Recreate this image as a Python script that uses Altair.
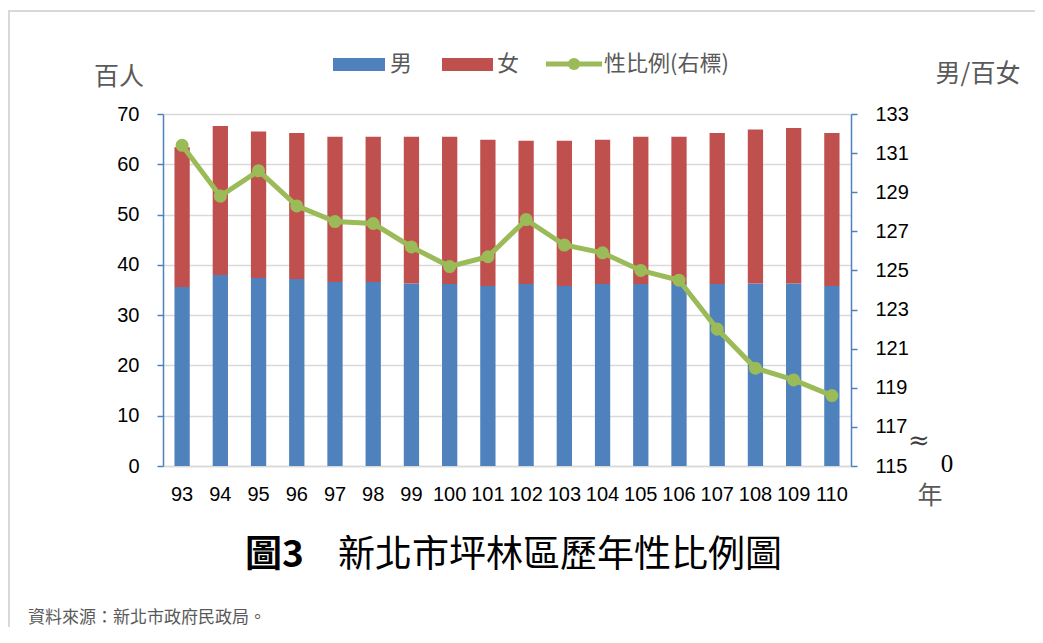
import altair as alt
import pandas as pd

# ---- data ----
years = [str(y) for y in range(93, 111)]
male = [35.6, 38.0, 37.4, 37.2, 36.6, 36.6, 36.3, 36.2, 35.8, 36.2, 35.8, 36.2, 36.2, 36.2, 36.2, 36.3, 36.3, 35.8]
female = [27.8, 29.6, 29.1, 29.0, 28.9, 28.9, 29.2, 29.3, 29.1, 28.5, 28.9, 28.7, 29.3, 29.3, 30.0, 30.6, 30.9, 30.4]
ratio = [131.4, 128.8, 130.1, 128.3, 127.5, 127.4, 126.2, 125.2, 125.7, 127.6, 126.3, 125.9, 125.0, 124.5, 122.0, 120.0, 119.4, 118.6]
series_names = ["男", "女", "性比例(右標)"]
left_ticks = [0, 10, 20, 30, 40, 50, 60, 70]
right_ticks = [115, 117, 119, 121, 123, 125, 127, 129, 131, 133]

BLUE = "#4f81bd"
RED = "#c0504d"
GREEN = "#9bbb59"
GRID = "#d9d9d9"
CJK = "Noto Sans CJK TC"
NUM = "Liberation Sans"

bar_df = pd.DataFrame(
    [{"year": y, "sex": series_names[0], "value": m, "ord": 0} for y, m in zip(years, male)]
    + [{"year": y, "sex": series_names[1], "value": f, "ord": 1} for y, f in zip(years, female)]
)
line_df = pd.DataFrame({"year": years, "ratio": ratio})
one = pd.DataFrame({"k": [0]})

x_enc = alt.X(
    "year:N",
    sort=years,
    scale=alt.Scale(paddingInner=0.6, paddingOuter=0.3),
    axis=alt.Axis(
        title=None, labelAngle=0, ticks=False, domainColor=GRID, domainWidth=1.5,
        labelFontSize=20, labelFont=NUM, labelColor="#000000", labelPadding=18,
    ),
)

bars = alt.Chart(bar_df).mark_bar().encode(
    x=x_enc,
    y=alt.Y(
        "value:Q",
        stack="zero",
        scale=alt.Scale(domain=[0, 70], nice=False),
        axis=alt.Axis(
            orient="left", values=left_ticks, title=None, grid=True, gridColor=GRID,
            gridWidth=1.5, domainColor=BLUE, domainWidth=1.5, tickColor=BLUE,
            tickSize=6, tickWidth=1.5, labelFontSize=20, labelFont=NUM,
            labelColor="#000000", labelPadding=18,
        ),
    ),
    color=alt.Color("sex:N", scale=alt.Scale(domain=series_names[:2], range=[BLUE, RED]), legend=None),
    order=alt.Order("ord:Q"),
)

line = alt.Chart(line_df).mark_line(
    color=GREEN, strokeWidth=5,
    point=alt.OverlayMarkDef(filled=True, size=170, color=GREEN, opacity=1),
).encode(
    x=alt.X("year:N", sort=years),
    y=alt.Y(
        "ratio:Q",
        scale=alt.Scale(domain=[115, 133], nice=False, zero=False),
        axis=alt.Axis(
            orient="right", values=right_ticks, title=None, grid=False,
            domainColor=BLUE, domainWidth=1.5, tickColor=BLUE, tickSize=6,
            tickWidth=1.5, labelFontSize=20, labelFont=NUM, labelColor="#000000",
            labelPadding=18,
        ),
    ),
)

base = alt.Chart(one)


def txt(s, x, y, size, font=CJK, color="#595959", weight="normal", align="center"):
    return base.mark_text(
        text=s, font=font, fontSize=size, color=color, fontWeight=weight,
        align=align, baseline="middle",
    ).encode(x=alt.value(x), y=alt.value(y))


def rect(x, x2, y, y2, color):
    return base.mark_rect(color=color).encode(
        x=alt.value(x), x2=alt.value(x2), y=alt.value(y), y2=alt.value(y2)
    )


# legend (drawn by hand)
leg = [
    rect(170, 222, -56, -43, BLUE),
    txt(series_names[0], 227, -50, 22, align="left"),
    rect(279, 330, -56, -43, RED),
    txt(series_names[1], 334, -50, 22, align="left"),
    base.mark_rule(color=GREEN, strokeWidth=5).encode(
        x=alt.value(383), x2=alt.value(439), y=alt.value(-50)
    ),
    base.mark_point(filled=True, size=150, color=GREEN, opacity=1).encode(
        x=alt.value(411), y=alt.value(-50)
    ),
    txt(series_names[2], 441, -50, 22, align="left"),
]

notes = [
    txt("百人", -44, -37, 25),
    txt("男/百女", 815, -40, 25),
    txt("≈", 756, 327, 26, font="DejaVu Serif", color="#404040"),
    txt("0", 784, 350, 25, font="Liberation Serif", color="#000000"),
    txt("年", 767, 382, 25),
    txt("圖3", 82, 442, 37, color="#000000", weight="bold", align="left"),
    txt("新北市坪林區歷年性比例圖", 175, 442, 37, color="#000000", align="left"),
    txt("資料來源：新北市政府民政局。", -135, 504, 17, align="left"),
]

frame = [
    base.mark_rule(color=GRID, strokeWidth=2).encode(
        x=alt.value(-155), x2=alt.value(872), y=alt.value(-103)
    ),
    base.mark_rule(color=GRID, strokeWidth=2).encode(
        x=alt.value(-154), y=alt.value(-103), y2=alt.value(513)
    ),
]

chart = alt.layer(bars, line, *leg, *notes, *frame).resolve_scale(
    y="independent"
).properties(
    width=688,
    height=352,
    autosize=alt.AutoSizeParams(type="none"),
    padding={"left": 155, "top": 106, "right": 184, "bottom": 169},
).configure_view(stroke=None)

chart.save("out.html", embed_options={"renderer": "svg", "actions": False})
